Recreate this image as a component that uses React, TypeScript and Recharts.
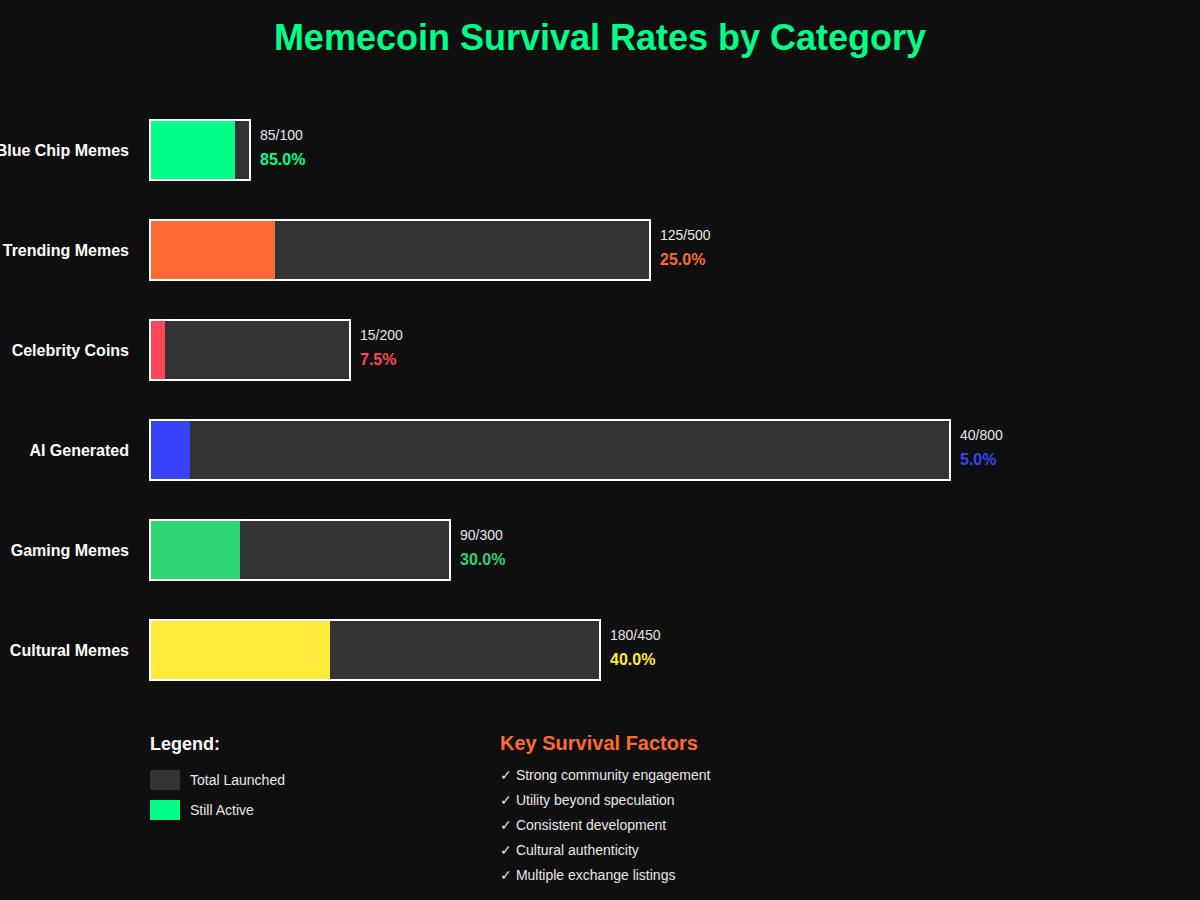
import React from 'react';
import { BarChart, Bar, XAxis, YAxis, LabelList } from 'recharts';

// data
const categories = ['Blue Chip Memes', 'Trending Memes', 'Celebrity Coins', 'AI Generated', 'Gaming Memes', 'Cultural Memes'];
const totalLaunched = [100, 500, 200, 800, 300, 450];
const stillActive = [85, 125, 15, 40, 90, 180];
const barColors = ['#00ff88', '#ff6b35', '#ff4757', '#3742fa', '#2ed573', '#ffeb3b'];
const factors = [
  'Strong community engagement',
  'Utility beyond speculation',
  'Consistent development',
  'Cultural authenticity',
  'Multiple exchange listings',
];

const data = categories.map((name, i) => ({
  name,
  total: totalLaunched[i],
  active: stillActive[i],
  border: totalLaunched[i],
  color: barColors[i],
}));

const FONT = '"Liberation Sans", Arial, sans-serif';

const CategoryTick = (props: any) => {
  const { y, payload } = props;
  return (
    <text x={129} y={y} dy={6} textAnchor="end" fill="#ffffff" fontSize={16} fontWeight="bold" fontFamily={FONT}>
      {payload.value}
    </text>
  );
};

const ValueLabel = (props: any) => {
  const { x, y, width, index } = props;
  const d = data[index];
  const pct = ((d.active / d.total) * 100).toFixed(1) + '%';
  return (
    <g>
      <text x={x + width + 10} y={y + 20} fill="#e8e8e8" fontSize={14} fontFamily={FONT}>
        {d.active}/{d.total}
      </text>
      <text x={x + width + 10} y={y + 45} fill={d.color} fontSize={16} fontWeight="bold" fontFamily={FONT}>
        {pct}
      </text>
    </g>
  );
};

const ActiveShape = (props: any) => {
  const { x, y, width, height, payload } = props;
  return <rect x={x + 1} y={y} width={Math.max(width - 1, 0)} height={height} fill={payload.color} />;
};

const BorderShape = (props: any) => {
  const { x, y, width, height } = props;
  return <rect x={x} y={y} width={width} height={height} fill="none" stroke="#ffffff" strokeWidth={2} />;
};

export default function App() {
  return (
    <div
      style={{
        position: 'fixed',
        left: 0,
        top: 0,
        width: 1200,
        height: 900,
        background: '#0f0f0f',
        fontFamily: FONT,
        overflow: 'hidden',
      }}
    >
      <div
        style={{
          position: 'absolute',
          top: 17,
          left: 0,
          width: 1200,
          textAlign: 'center',
          color: '#00ff88',
          fontSize: 36,
          fontWeight: 'bold',
        }}
      >
        Memecoin Survival Rates by Category
      </div>

      <div style={{ position: 'absolute', left: 0, top: 0 }}>
        <BarChart
          width={1200}
          height={900}
          data={data}
          layout="vertical"
          margin={{ top: 100, right: 0, bottom: 200, left: 0 }}
          barSize={60}
          barGap={-60}
        >
          <XAxis type="number" domain={[0, 1050]} hide />
          <YAxis
            type="category"
            dataKey="name"
            width={150}
            axisLine={false}
            tickLine={false}
            tick={<CategoryTick />}
          />
          <Bar dataKey="total" fill="#333333" isAnimationActive={false} />
          <Bar dataKey="active" shape={<ActiveShape />} isAnimationActive={false} />
          <Bar dataKey="border" shape={<BorderShape />} isAnimationActive={false}>
            <LabelList content={<ValueLabel />} />
          </Bar>
        </BarChart>
      </div>

      <div style={{ position: 'absolute', left: 150, top: 734 }}>
        <div style={{ color: '#ffffff', fontSize: 18, fontWeight: 'bold', marginBottom: 15 }}>Legend:</div>
        <div style={{ display: 'flex', alignItems: 'center', height: 20, marginBottom: 10 }}>
          <div style={{ width: 30, height: 20, background: '#333333', marginRight: 10 }} />
          <span style={{ color: '#e8e8e8', fontSize: 14 }}>Total Launched</span>
        </div>
        <div style={{ display: 'flex', alignItems: 'center', height: 20 }}>
          <div style={{ width: 30, height: 20, background: '#00ff88', marginRight: 10 }} />
          <span style={{ color: '#e8e8e8', fontSize: 14 }}>Still Active</span>
        </div>
      </div>

      <div style={{ position: 'absolute', left: 500, top: 732 }}>
        <div style={{ color: '#ff6b35', fontSize: 20, fontWeight: 'bold', marginBottom: 8 }}>Key Survival Factors</div>
        {factors.map((f) => (
          <div key={f} style={{ color: '#e8e8e8', fontSize: 14, height: 25, lineHeight: '25px' }}>
            ✓ {f}
          </div>
        ))}
      </div>
    </div>
  );
}
